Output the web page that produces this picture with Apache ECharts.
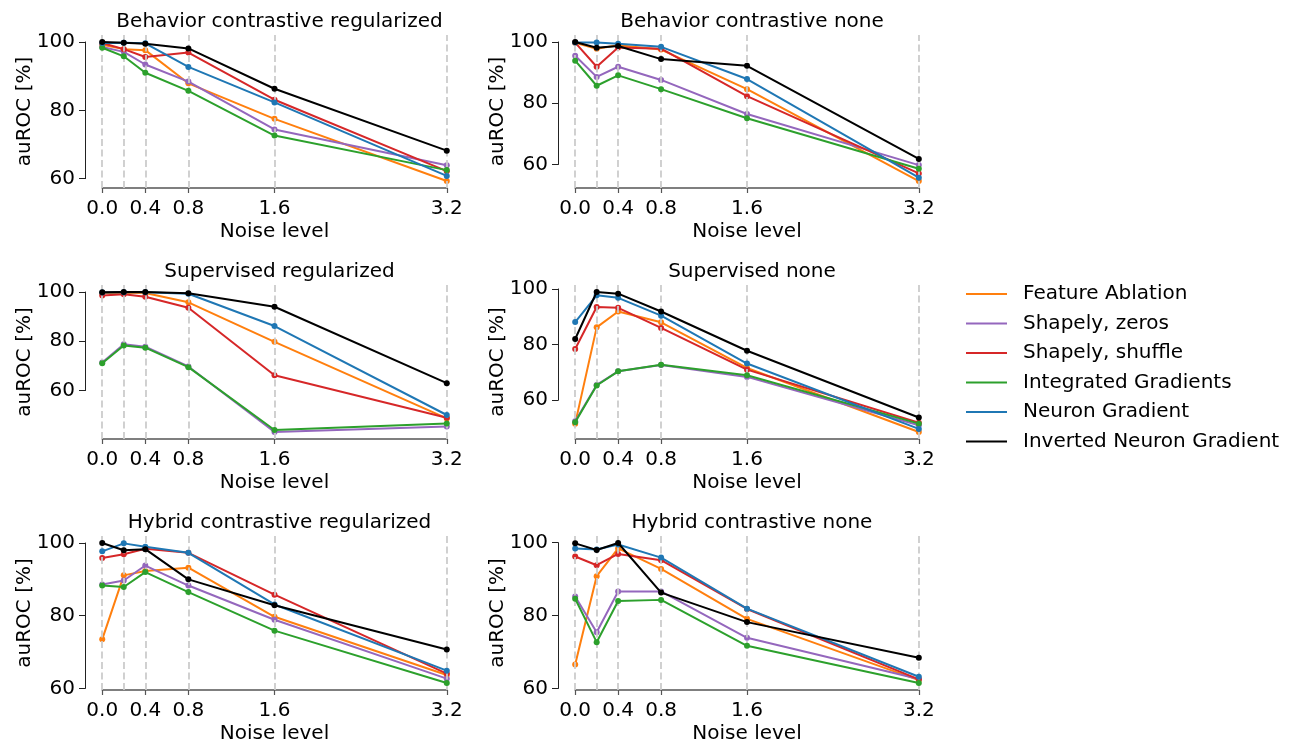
<!DOCTYPE html>
<html><head><meta charset="utf-8">
<script src="https://cdn.jsdelivr.net/npm/echarts@6/dist/echarts.min.js"></script>
<style>html,body{margin:0;padding:0;background:#fff}#c{width:1294px;height:746px}</style>
</head><body><div id="c"></div>
<script>
// ---------- data ----------
const noiseLevels = [0, 0.2, 0.4, 0.8, 1.6, 3.2];
const xTickValues = [0, 0.4, 0.8, 1.6, 3.2];
const yTickValues = [60, 80, 100];
const methodNames = ['Feature Ablation', 'Shapely, zeros', 'Shapely, shuffle', 'Integrated Gradients', 'Neuron Gradient', 'Inverted Neuron Gradient'];
const methodColors = ['#ff7f0e', '#9467bd', '#d62728', '#2ca02c', '#1f77b4', '#000000'];
const panelTitles = ['Behavior contrastive regularized', 'Behavior contrastive none', 'Supervised regularized', 'Supervised none', 'Hybrid contrastive regularized', 'Hybrid contrastive none'];

// Behavior contrastive regularized
const bcr_featureAblation = [99.2, 97.9, 97.6, 87.9, 77.5, 59.3];
const bcr_shapelyZeros    = [98.5, 97.1, 93.4, 88.4, 74.4, 63.9];
const bcr_shapelyShuffle  = [99.7, 97.9, 95.6, 96.9, 83.1, 62.2];
const bcr_intGradients    = [98.3, 95.8, 91.0, 85.7, 72.6, 62.5];
const bcr_neuronGradient  = [99.7, 99.8, 99.6, 92.7, 82.3, 60.8];
const bcr_invNeuronGrad   = [100.0, 99.8, 99.5, 98.1, 86.3, 68.2];
// Behavior contrastive none
const bcn_featureAblation = [99.7, 97.8, 98.9, 97.5, 84.6, 54.6];
const bcn_shapelyZeros    = [95.5, 88.6, 91.9, 87.6, 76.5, 59.8];
const bcn_shapelyShuffle  = [99.8, 91.9, 98.2, 97.8, 82.3, 57.1];
const bcn_intGradients    = [93.9, 85.7, 89.1, 84.6, 75.1, 58.6];
const bcn_neuronGradient  = [99.8, 99.8, 99.4, 98.4, 87.9, 55.7];
const bcn_invNeuronGrad   = [100.0, 98.1, 98.7, 94.4, 92.2, 61.8];
// Supervised regularized
const sr_featureAblation  = [99.6, 99.6, 99.6, 95.8, 79.8, 48.7];
const sr_shapelyZeros     = [71.4, 78.8, 77.8, 69.8, 43.2, 45.4];
const sr_shapelyShuffle   = [98.6, 99.1, 98.1, 93.6, 66.2, 49.0];
const sr_intGradients     = [71.1, 78.3, 77.4, 69.5, 44.0, 46.6];
const sr_neuronGradient   = [99.8, 99.9, 99.9, 99.3, 86.2, 50.1];
const sr_invNeuronGrad    = [99.9, 100.0, 100.0, 99.5, 94.0, 63.0];
// Supervised none
const sn_featureAblation  = [51.6, 86.2, 91.9, 88.0, 71.6, 48.6];
const sn_shapelyZeros     = [52.5, 65.5, 70.4, 72.7, 68.4, 51.0];
const sn_shapelyShuffle   = [78.4, 93.5, 93.2, 86.0, 71.0, 51.9];
const sn_intGradients     = [52.1, 65.3, 70.4, 72.8, 69.0, 51.6];
const sn_neuronGradient   = [88.1, 97.7, 96.8, 90.4, 73.2, 49.7];
const sn_invNeuronGrad    = [82.0, 98.9, 98.3, 91.9, 77.8, 53.8];
// Hybrid contrastive regularized
const hcr_featureAblation = [73.5, 91.1, 92.3, 93.2, 79.7, 63.7];
const hcr_shapelyZeros    = [88.6, 89.7, 93.8, 88.3, 78.9, 62.7];
const hcr_shapelyShuffle  = [95.9, 96.9, 98.4, 97.3, 85.8, 64.1];
const hcr_intGradients    = [88.3, 87.9, 92.0, 86.5, 75.9, 61.5];
const hcr_neuronGradient  = [97.7, 99.9, 99.0, 97.3, 83.1, 64.9];
const hcr_invNeuronGrad   = [100.0, 98.0, 98.3, 90.0, 82.9, 70.7];
// Hybrid contrastive none
const hcn_featureAblation = [66.6, 90.8, 98.4, 92.8, 79.1, 62.3];
const hcn_shapelyZeros    = [85.2, 75.4, 86.6, 86.6, 73.9, 62.6];
const hcn_shapelyShuffle  = [96.2, 93.8, 96.9, 95.2, 81.8, 62.5];
const hcn_intGradients    = [84.6, 72.7, 84.0, 84.3, 71.7, 61.5];
const hcn_neuronGradient  = [98.4, 98.1, 99.5, 95.9, 81.9, 63.2];
const hcn_invNeuronGrad   = [99.8, 98.0, 99.9, 86.3, 78.2, 68.4];

const panelSeries = [
  [bcr_featureAblation, bcr_shapelyZeros, bcr_shapelyShuffle, bcr_intGradients, bcr_neuronGradient, bcr_invNeuronGrad],
  [bcn_featureAblation, bcn_shapelyZeros, bcn_shapelyShuffle, bcn_intGradients, bcn_neuronGradient, bcn_invNeuronGrad],
  [sr_featureAblation, sr_shapelyZeros, sr_shapelyShuffle, sr_intGradients, sr_neuronGradient, sr_invNeuronGrad],
  [sn_featureAblation, sn_shapelyZeros, sn_shapelyShuffle, sn_intGradients, sn_neuronGradient, sn_invNeuronGrad],
  [hcr_featureAblation, hcr_shapelyZeros, hcr_shapelyShuffle, hcr_intGradients, hcr_neuronGradient, hcr_invNeuronGrad],
  [hcn_featureAblation, hcn_shapelyZeros, hcn_shapelyShuffle, hcn_intGradients, hcn_neuronGradient, hcn_invNeuronGrad]
];

// ---------- layout ----------
const FONT = 'DejaVu Sans';
const FS = 20;
const colLeft = [85, 558];
const colWidth = [379, 378];
const rowTop = [35, 285, 536];
const rowHeight = [153, 154, 154];

const chart = echarts.init(document.getElementById('c'), null, {renderer: 'canvas'});

function panelBox(i) {
  const r = Math.floor(i / 2), c = i % 2;
  return {left: colLeft[c], top: rowTop[r], width: colWidth[c], height: rowHeight[r]};
}

const xPad = 0.05 * (noiseLevels[noiseLevels.length - 1] - noiseLevels[0]);

function buildBase() {
  const grid = [], xAxis = [], yAxis = [], series = [], title = [];
  for (let i = 0; i < 6; i++) {
    const b = panelBox(i);
    grid.push({left: b.left, top: b.top, width: b.width, height: b.height, containLabel: false});
    let lo = Infinity, hi = -Infinity;
    panelSeries[i].forEach(a => a.forEach(v => { lo = Math.min(lo, v); hi = Math.max(hi, v); }));
    const yPad = 0.05 * (hi - lo);
    xAxis.push({gridIndex: i, type: 'value', min: noiseLevels[0] - xPad, max: noiseLevels[noiseLevels.length - 1] + xPad,
      show: false});
    yAxis.push({gridIndex: i, type: 'value', min: lo - yPad, max: hi + yPad, show: true,
      axisLine: {show: false}, axisTick: {show: false}, axisLabel: {show: false}, splitLine: {show: false},
      name: 'auROC [%]', nameLocation: 'middle', nameGap: 50,
      nameTextStyle: {fontFamily: FONT, fontSize: FS, color: '#000'}});
    // vertical dashed guide lines at every noise level
    series.push({type: 'line', xAxisIndex: i, yAxisIndex: i, data: [], z: 1, silent: true,
      markLine: {silent: true, symbol: ['none', 'none'], label: {show: false},
        lineStyle: {type: [7, 3.5], color: '#cccccc', width: 1.8},
        emphasis: {disabled: true},
        data: noiseLevels.map(v => ({xAxis: v}))}});
    panelSeries[i].forEach((vals, m) => {
      series.push({type: 'line', name: methodNames[m], xAxisIndex: i, yAxisIndex: i, z: 2 + m,
        data: noiseLevels.map((x, k) => [x, vals[k]]),
        symbol: 'circle', symbolSize: 6, showSymbol: true,
        lineStyle: {color: methodColors[m], width: 2},
        itemStyle: {color: methodColors[m]},
        emphasis: {disabled: true}});
    });
    title.push({text: panelTitles[i], left: b.left + b.width / 2, top: b.top - 28, textAlign: 'center',
      textStyle: {fontFamily: FONT, fontSize: FS, fontWeight: 'normal', color: '#000'}});
  }
  return {
    animation: false,
    backgroundColor: '#fff',
    color: methodColors,
    title,
    legend: {data: methodNames, orient: 'vertical', left: 961, top: 279, icon: 'rect',
      itemWidth: 41, itemHeight: 2.2, itemGap: 9.5,
      textStyle: {fontFamily: FONT, fontSize: FS, color: '#000', lineHeight: 20, padding: [0, 0, 0, 11]}},
    grid, xAxis, yAxis, series
  };
}

const opt = buildBase();
chart.setOption(opt);

// trimmed spines (x from first to last tick, y from 60 to 100) positioned via the data axes' scales
for (let i = 0; i < 6; i++) {
  const b = panelBox(i);
  const x0 = chart.convertToPixel({xAxisIndex: i}, xTickValues[0]);
  const x1 = chart.convertToPixel({xAxisIndex: i}, xTickValues[xTickValues.length - 1]);
  const yTop = chart.convertToPixel({yAxisIndex: i}, yTickValues[yTickValues.length - 1]);
  const yBot = chart.convertToPixel({yAxisIndex: i}, yTickValues[0]);
  const bottom = b.top + b.height;
  // x spine grid
  opt.grid.push({left: x0, width: x1 - x0, top: bottom - 1, height: 1});
  const gx = opt.grid.length - 1;
  opt.xAxis.push({gridIndex: gx, type: 'value', min: xTickValues[0], max: xTickValues[xTickValues.length - 1],
    axisLine: {show: true, lineStyle: {color: '#555', width: 1.5}},
    axisTick: {show: true, length: 5, lineStyle: {color: '#555', width: 1.2}, customValues: xTickValues},
    axisLabel: {show: true, customValues: xTickValues, margin: 11, formatter: v => v.toFixed(1),
      fontFamily: FONT, fontSize: FS, color: '#000'},
    splitLine: {show: false},
    name: 'Noise level', nameLocation: 'middle', nameGap: 34,
    nameTextStyle: {fontFamily: FONT, fontSize: FS, color: '#000'}});
  opt.yAxis.push({gridIndex: gx, type: 'value', min: 0, max: 1, show: false});
  // y spine grid
  opt.grid.push({left: b.left, width: 1, top: yTop, height: yBot - yTop});
  const gy = opt.grid.length - 1;
  opt.xAxis.push({gridIndex: gy, type: 'value', min: 0, max: 1, show: false});
  opt.yAxis.push({gridIndex: gy, type: 'value', min: yTickValues[0], max: yTickValues[yTickValues.length - 1], interval: 20,
    axisLine: {show: true, lineStyle: {color: '#222', width: 1}},
    axisTick: {show: true, length: 6, lineStyle: {color: '#222', width: 1}},
    axisLabel: {show: true, margin: 10, fontFamily: FONT, fontSize: FS, color: '#000'},
    splitLine: {show: false}});
}
chart.setOption(opt, true);
</script></body></html>
